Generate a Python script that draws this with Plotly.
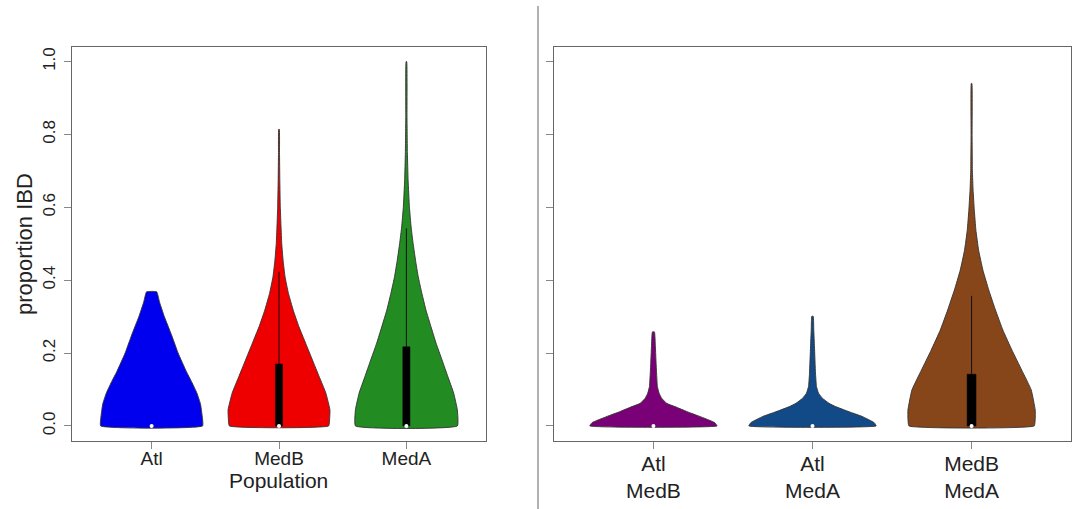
import plotly.graph_objects as go

# ---------------- data ----------------
left_categories = ["Atl", "MedB", "MedA"]
right_categories = ["Atl<br>MedB", "Atl<br>MedA", "MedB<br>MedA"]
y_tick_values = [0.0, 0.2, 0.4, 0.6, 0.8, 1.0]
y_tick_labels = ["0.0", "0.2", "0.4", "0.6", "0.8", "1.0"]

# density profiles (level of proportion IBD, relative half-width of violin)
atl_levels = [0, 0.03, 0.06, 0.09, 0.12, 0.15, 0.2, 0.25, 0.3, 0.34, 0.368]
atl_density = [1.0, 0.99, 0.96, 0.89, 0.79, 0.68, 0.52, 0.39, 0.25, 0.155, 0.10]

medb_levels = [0, 0.02, 0.044, 0.09, 0.135, 0.181, 0.227, 0.272, 0.318, 0.364, 0.409,
               0.455, 0.5, 0.546, 0.6, 0.674, 0.75, 0.814]
medb_density = [0.974, 0.994, 1.0, 0.92, 0.79, 0.656, 0.523, 0.392, 0.278, 0.185, 0.119,
                0.08, 0.054, 0.04, 0.026, 0.016, 0.01, 0.006]

meda_levels = [0, 0.044, 0.09, 0.135, 0.181, 0.227, 0.272, 0.318, 0.364, 0.409, 0.455,
               0.5, 0.546, 0.6, 0.674, 0.75, 0.85, 1.0]
meda_density = [1.0, 1.0, 0.928, 0.815, 0.70, 0.583, 0.483, 0.384, 0.304, 0.233, 0.179,
                0.133, 0.093, 0.06, 0.034, 0.02, 0.012, 0.006]

atl_medb_levels = [0, 0.009, 0.026, 0.039, 0.053, 0.062, 0.076, 0.09, 0.108, 0.172, 0.217, 0.258]
atl_medb_density = [1.0, 0.964, 0.73, 0.531, 0.339, 0.208, 0.13, 0.089, 0.0625, 0.042, 0.031, 0.016]

atl_meda_levels = [0, 0.009, 0.026, 0.039, 0.053, 0.062, 0.076, 0.09, 0.108, 0.145, 0.217, 0.263, 0.301]
atl_meda_density = [1.0, 0.969, 0.781, 0.573, 0.364, 0.261, 0.156, 0.094, 0.0625, 0.047, 0.031, 0.02, 0.011]

medb_meda_levels = [0, 0.02, 0.044, 0.099, 0.153, 0.208, 0.263, 0.318, 0.373, 0.427, 0.482,
                    0.537, 0.592, 0.647, 0.70, 0.8, 0.94]
medb_meda_density = [0.984, 1.0, 1.0, 0.937, 0.789, 0.635, 0.492, 0.376, 0.27, 0.179, 0.111,
                     0.068, 0.043, 0.024, 0.013, 0.008, 0.005]

left_medians = [0.0, 0.0, 0.0]
left_q1 = [0.0, 0.0, 0.0]
left_q3 = [0.0, 0.170, 0.217]
left_whisker_hi = [0.0, 0.423, 0.542]

right_medians = [0.0, 0.0, 0.0]
right_q1 = [0.0, 0.0, 0.0]
right_q3 = [0.0, 0.0, 0.142]
right_whisker_hi = [0.0, 0.0, 0.357]

left_colors = ["#0000EE", "#EE0000", "#228B22"]
right_colors = ["#7A0077", "#124A87", "#86461A"]

# ---------------- figure ----------------
W, H = 1072, 509
HALF_WIDTH = 0.4
BOX_HALF = 0.028

fig = go.Figure()


def add_violins(levels_list, dens_list, colors, q1s, q3s, whis, meds, xa, ya):
    for i, (lv, dn) in enumerate(zip(levels_list, dens_list)):
        pos = i + 1
        xs = [pos + d * HALF_WIDTH for d in dn] + [pos - d * HALF_WIDTH for d in dn[::-1]] + [pos + dn[0] * HALF_WIDTH]
        ys = list(lv) + list(lv[::-1]) + [lv[0]]
        fig.add_trace(go.Scatter(x=xs, y=ys, mode="lines", fill="toself",
                                 fillcolor=colors[i],
                                 line=dict(color="#333333", width=0.9, shape="spline", smoothing=0.35),
                                 xaxis=xa, yaxis=ya, showlegend=False, hoverinfo="skip"))
        if whis[i] > q3s[i]:
            fig.add_trace(go.Scatter(x=[pos, pos], y=[q3s[i], whis[i]], mode="lines",
                                     line=dict(color="#111111", width=1),
                                     xaxis=xa, yaxis=ya, showlegend=False, hoverinfo="skip"))
        if q3s[i] > q1s[i]:
            fig.add_trace(go.Scatter(x=[pos - BOX_HALF, pos + BOX_HALF, pos + BOX_HALF, pos - BOX_HALF, pos - BOX_HALF],
                                     y=[q1s[i], q1s[i], q3s[i], q3s[i], q1s[i]],
                                     mode="lines", fill="toself", fillcolor="#000000",
                                     line=dict(color="#000000", width=0.5),
                                     xaxis=xa, yaxis=ya, showlegend=False, hoverinfo="skip"))
        fig.add_trace(go.Scatter(x=[pos], y=[meds[i]], mode="markers",
                                 marker=dict(color="white", size=4, line=dict(width=0)),
                                 xaxis=xa, yaxis=ya, showlegend=False, hoverinfo="skip"))


add_violins([atl_levels, medb_levels, meda_levels],
            [atl_density, medb_density, meda_density],
            left_colors, left_q1, left_q3, left_whisker_hi, left_medians, "x", "y")
add_violins([atl_medb_levels, atl_meda_levels, medb_meda_levels],
            [atl_medb_density, atl_meda_density, medb_meda_density],
            right_colors, right_q1, right_q3, right_whisker_hi, right_medians, "x2", "y2")

FONT = "Liberation Sans, Arial, sans-serif"
ydom = [1 - 440.5 / H, 1 - 47 / H]
axis_common = dict(showline=True, mirror=True, linecolor="#666666", linewidth=1.3,
                   ticks="outside", ticklen=7, tickcolor="#888888", tickwidth=1.3,
                   showgrid=False, zeroline=False, automargin=False)

fig.update_layout(
    width=W, height=H,
    margin=dict(l=0, r=0, t=0, b=0, autoexpand=False),
    paper_bgcolor="white", plot_bgcolor="white",
    font=dict(family=FONT, color="#222222"),
    xaxis=dict(domain=[72 / W, 486 / W], range=[0.375, 3.625],
               tickvals=[1, 2, 3], ticktext=left_categories,
               tickfont=dict(size=19), ticklabelstandoff=-6, anchor="y", **axis_common),
    yaxis=dict(domain=ydom, range=[-0.04, 1.04],
               tickvals=y_tick_values, ticktext=y_tick_labels, tickangle=-90,
               tickfont=dict(size=17), ticklabelstandoff=2, anchor="x", **axis_common),
    xaxis2=dict(domain=[554 / W, 1071 / W], range=[0.375, 3.625],
                tickvals=[1, 2, 3], ticktext=right_categories,
                tickfont=dict(size=21), ticklabelstandoff=-3, anchor="y2", **axis_common),
    yaxis2=dict(domain=ydom, range=[-0.04, 1.04],
                tickvals=y_tick_values, showticklabels=False, anchor="x2", **axis_common),
    shapes=[dict(type="line", xref="paper", yref="paper",
                 x0=538 / W, x1=538 / W, y0=0, y1=1 - 6 / H,
                 line=dict(color="#888888", width=1.3))],
    annotations=[
        dict(text="proportion IBD", xref="paper", yref="paper",
             x=25 / W, y=1 - 244 / H, textangle=-90, showarrow=False,
             xanchor="center", yanchor="middle", font=dict(size=22, family=FONT, color="#222222")),
        dict(text="Population", xref="paper", yref="paper",
             x=278 / W, y=1 - 480 / H, showarrow=False,
             xanchor="center", yanchor="middle", font=dict(size=21, family=FONT, color="#222222")),
    ],
)

fig.write_html("out.html", config={"displayModeBar": False},
               post_script="document.body.style.margin='0';document.body.style.overflow='hidden';")
